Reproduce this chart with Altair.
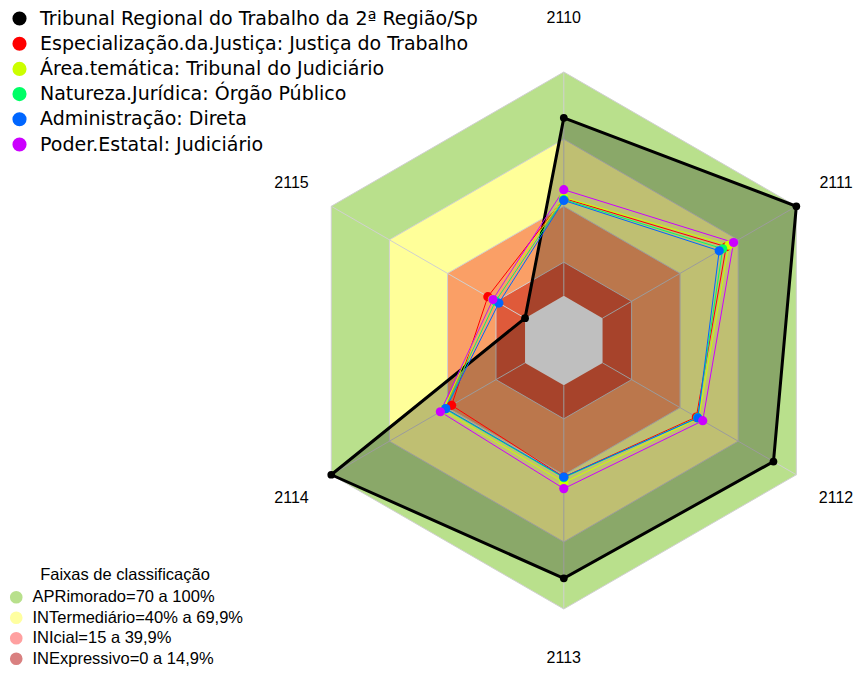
import math
import altair as alt
import pandas as pd

# ---------------- data ----------------
eixos = ["2110", "2111", "2112", "2113", "2114", "2115"]

series_nomes = [
    "Tribunal Regional do Trabalho da 2ª Região/Sp",
    "Especialização.da.Justiça: Justiça do Trabalho",
    "Área.temática: Tribunal do Judiciário",
    "Natureza.Jurídica: Órgão Público",
    "Administração: Direta",
    "Poder.Estatal: Judiciário",
]
series_cores = ["#000000", "#FF0000", "#CCFF00", "#00FF66", "#0066FF", "#CC00FF"]

v_tribunal = [79.5, 100.0, 88.2, 86.3, 100.0, 0.0]
v_especializacao = [43.5, 63.8, 48.4, 41.0, 37.9, 19.2]
v_area = [44.0, 65.2, 49.6, 43.5, 42.3, 16.8]
v_natureza = [43.0, 62.0, 49.0, 41.3, 41.2, 15.2]
v_administracao = [42.6, 60.2, 49.2, 41.0, 40.9, 13.5]
v_poder = [47.4, 67.6, 51.7, 46.2, 43.7, 16.6]
series_valores = [v_tribunal, v_especializacao, v_area, v_natureza, v_administracao, v_poder]

faixas = [
    "APRimorado=70 a 100%",
    "INTermediário=40% a 69,9%",
    "INIcial=15 a 39,9%",
    "INExpressivo=0 a 14,9%",
]
faixa_limites = [100, 70, 40, 15]
faixa_cores_grafico = ["#B9E08C", "#FFFF99", "#FA9F66", "#DF5A3A"]
faixa_cores_legenda = ["#B8E08C", "#FFFFA0", "#FFA0A0", "#D98080"]
centro_cor = "#FFFFFF"

# ---------------- geometry helpers ----------------
OFFSET = 20.0             # radial offset (value 0 sits away from the centre)
LABEL_VALUE_TOP = 124.3   # label distance for the top axis
LABEL_VALUE_BOTTOM = 122.0
LABEL_VALUE_SIDE = 120.5  # label distance for side axes

def xy(valor, i):
    ang = i * math.pi / 3.0
    r = valor + OFFSET
    return r * math.sin(ang), r * math.cos(ang)

# series table
rows = []
for nome, vals in zip(series_nomes, series_valores):
    for i, (eixo, v) in enumerate(zip(eixos, vals)):
        x, y = xy(v, i)
        rows.append({"serie": nome, "eixo": eixo, "idx": i, "valor": v, "x": x, "y": y})
df_series = pd.DataFrame(rows)

# band polygons (levels incl. centre at 0)
niveis = faixa_limites + [0]
cores_niveis = faixa_cores_grafico + [centro_cor]
rows = []
for nivel in niveis:
    for i in range(len(eixos)):
        x, y = xy(nivel, i)
        rows.append({"nivel": nivel, "idx": i, "x": x, "y": y})
df_bandas = pd.DataFrame(rows)

# grid rings
rows = []
for nivel in [15, 40, 70, 100]:
    for i in range(len(eixos)):
        x, y = xy(nivel, i)
        rows.append({"nivel": nivel, "idx": i, "x": x, "y": y})
df_aneis = pd.DataFrame(rows)

# spokes
rows = []
for i, eixo in enumerate(eixos):
    for k, v in enumerate([0, 100]):
        x, y = xy(v, i)
        rows.append({"eixo": eixo, "k": k, "x": x, "y": y})
df_raios = pd.DataFrame(rows)

# axis labels
rows = []
for i, eixo in enumerate(eixos):
    if i == 0:
        lv = LABEL_VALUE_TOP
    elif i == 3:
        lv = LABEL_VALUE_BOTTOM
    else:
        lv = LABEL_VALUE_SIDE
    x, y = xy(lv, i)
    rows.append({"eixo": eixo, "x": x, "y": y})
df_rotulos = pd.DataFrame(rows)

# legend carrier for bands (hidden under the centre)
df_faixas = pd.DataFrame({"faixa": faixas, "x": [0.0] * 4, "y": [0.0] * 4})

# ---------------- scales / layout ----------------
W, H = 846, 659
PX = 268.5 / (100 + OFFSET)
CX, CY = 555.8, 332.5
xs = alt.Scale(domain=[-CX / PX, (W - CX) / PX], nice=False, zero=False)
ys = alt.Scale(domain=[-(H - CY) / PX, CY / PX], nice=False, zero=False)
X = alt.X("x:Q", scale=xs, axis=None)
Y = alt.Y("y:Q", scale=ys, axis=None)
FONT = "Liberation Sans"

layers = []

# bands
for nivel, cor in zip(niveis, cores_niveis):
    layers.append(
        alt.Chart(df_bandas)
        .transform_filter(alt.datum.nivel == nivel)
        .mark_line(interpolate="linear-closed", fill=cor, strokeWidth=0)
        .encode(x=X, y=Y, order=alt.Order("idx:Q"))
    )
    if nivel == 15:
        layers.append(
            alt.Chart(df_faixas)
            .mark_circle(size=1, opacity=1)
            .encode(
                x=X, y=Y,
                fill=alt.Fill(
                    "faixa:N",
                    scale=alt.Scale(domain=faixas, range=faixa_cores_legenda),
                    legend=alt.Legend(
                        title="Faixas de classificação",
                        orient="none", legendX=0, legendY=558.5,
                        titleFont=FONT, titleFontSize=16.5, titleFontWeight="normal",
                        titleColor="black", titleAnchor="middle", titlePadding=6,
                        labelFont=FONT, labelFontSize=16.5, labelColor="black",
                        labelOffset=8, symbolType="circle", symbolSize=160,
                        symbolStrokeWidth=0, rowPadding=3.5, padding=0, labelLimit=400,
                    ),
                ),
            )
        )

# grid rings
layers.append(
    alt.Chart(df_aneis)
    .mark_line(interpolate="linear-closed", color="#D0D0D0", strokeWidth=1)
    .encode(x=X, y=Y, order=alt.Order("idx:Q"), detail="nivel:N")
)
# spokes
layers.append(
    alt.Chart(df_raios)
    .mark_line(color="#D0D0D0", strokeWidth=1)
    .encode(x=X, y=Y, order=alt.Order("k:Q"), detail="eixo:N")
)

# Tribunal polygon (filled, thick)
layers.append(
    alt.Chart(df_series)
    .transform_filter(alt.datum.serie == series_nomes[0])
    .mark_line(interpolate="linear-closed", fill="black", fillOpacity=0.25,
               stroke="black", strokeWidth=3)
    .encode(x=X, y=Y, order=alt.Order("idx:Q"))
)

# other series lines
layers.append(
    alt.Chart(df_series)
    .transform_filter(alt.datum.serie != series_nomes[0])
    .mark_line(interpolate="linear-closed", strokeWidth=1)
    .encode(
        x=X, y=Y, order=alt.Order("idx:Q"),
        stroke=alt.Stroke("serie:N",
                          scale=alt.Scale(domain=series_nomes[1:], range=series_cores[1:]),
                          legend=None),
    )
)

# points (all series) with legend
layers.append(
    alt.Chart(df_series)
    .mark_circle(opacity=1)
    .encode(
        x=X, y=Y,
        size=alt.condition(alt.datum.serie == series_nomes[0], alt.value(60), alt.value(85)),
        color=alt.Color(
            "serie:N",
            scale=alt.Scale(domain=series_nomes, range=series_cores),
            legend=alt.Legend(
                title=None, orient="none", legendX=2, legendY=1,
                labelFont="DejaVu Sans", labelFontSize=19, labelColor="black",
                labelOffset=11, symbolType="circle", symbolSize=200,
                symbolStrokeWidth=0, rowPadding=5.2, padding=0, labelLimit=600,
            ),
        ),
    )
)

# axis labels
layers.append(
    alt.Chart(df_rotulos)
    .mark_text(font=FONT, fontSize=16, color="black", align="center", baseline="middle")
    .encode(x=X, y=Y, text="eixo:N")
)

chart = (
    alt.layer(*layers)
    .resolve_scale(color="independent", stroke="independent", fill="independent")
    .properties(width=W, height=H, padding=0, autosize=alt.AutoSizeParams(type="none"),
                background="white")
    .configure_view(stroke=None)
)

chart.save("out.html", embed_options={"renderer": "svg", "actions": False})
